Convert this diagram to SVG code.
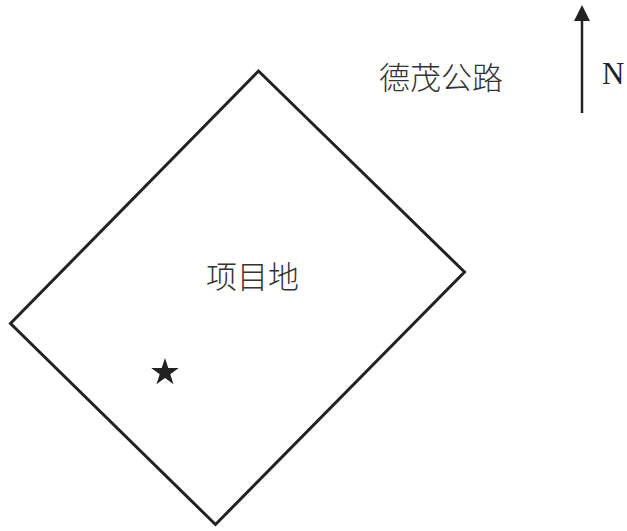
<svg xmlns="http://www.w3.org/2000/svg" width="627" height="531" viewBox="0 0 627 531">
<style>
.cjk{font-family:"Noto Sans CJK SC","Noto Sans CJK TC",sans-serif;font-size:31px;font-weight:300;fill:#333}
.lbl{font-family:"Liberation Serif",serif;font-size:31px;fill:#222}
</style>
<rect width="627" height="531" fill="#fff"/>
<g id="site">
<polygon points="258.5,71 464.5,272 215.5,524.5 10.5,323.5" fill="none" stroke="#222" stroke-width="3"/>
<text class="cjk" x="206" y="288">项目地</text>
</g>
<g id="star">
<polygon points="165,358 168.3,368 178.8,368 170.3,374.2 173.5,384.2 165,378 156.5,384.2 159.7,374.2 151.2,368 161.7,368" fill="#222"/>
</g>
<g id="road">
<text class="cjk" x="379" y="89">德茂公路</text>
</g>
<g id="north">
<line x1="582" y1="113" x2="582" y2="18" stroke="#222" stroke-width="2.5"/>
<polygon points="582,5 590,21 574,21" fill="#222"/>
<text class="lbl" x="602" y="84">N</text>
</g>
</svg>
